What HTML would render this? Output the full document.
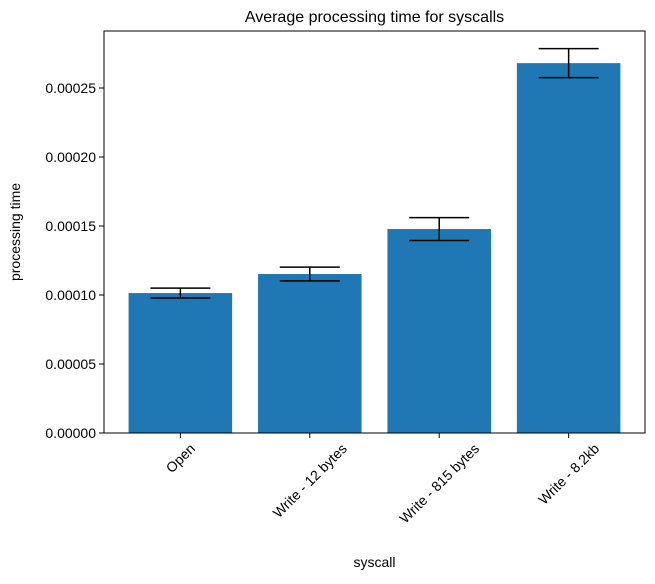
<!DOCTYPE html>
<html><head><meta charset="utf-8"><style>
body{margin:0;background:#fff;}
svg text{font-family:"Liberation Sans","DejaVu Sans",sans-serif;fill:#000;}
</style></head><body>
<svg id="chart" width="655" height="579"></svg>
<script>
const categories=["Open","Write - 12 bytes","Write - 815 bytes","Write - 8.2kb"];
const values=[0.0001014,0.0001152,0.0001478,0.000268];
const errors=[0.0000036,0.000005,0.0000083,0.0000105];
const yTicks=[0,0.00005,0.0001,0.00015,0.0002,0.00025];
const yTickLabels=["0.00000","0.00005","0.00010","0.00015","0.00020","0.00025"];

const L=104,R=645,T=31,B=433;
const xMin=-0.59,xMax=3.59,yMax=0.0002913;
const sx=v=>L+(v-xMin)/(xMax-xMin)*(R-L);
const sy=v=>B-v/yMax*(B-T);
const NS="http://www.w3.org/2000/svg";
const svg=document.getElementById('chart');
function mk(tag,attrs,txt){const e=document.createElementNS(NS,tag);for(const k in attrs)e.setAttribute(k,attrs[k]);if(txt!==undefined)e.textContent=txt;svg.appendChild(e);return e;}
const bw=sx(0.4)-sx(0);
categories.forEach((c,i)=>{
  const r=mk('rect',{x:sx(i)-bw,y:sy(values[i]),width:2*bw,height:B-sy(values[i]),fill:'#1f77b4'});
  
  
  const y1=sy(values[i]+errors[i]),y2=sy(values[i]-errors[i]),cx=sx(i);
  const g=[mk('line',{x1:cx,x2:cx,y1:y1,y2:y2,stroke:'#000','stroke-width':1.5}),
  mk('line',{x1:cx-30,x2:cx+30,y1:y1,y2:y1,stroke:'#000','stroke-width':1.5}),
  mk('line',{x1:cx-30,x2:cx+30,y1:y2,y2:y2,stroke:'#000','stroke-width':1.5})];
  g.forEach(e=>{});
  const tk=mk('line',{x1:cx,x2:cx,y1:B,y2:B+5,stroke:'#000','stroke-width':1});
  
  
  const t=mk('text',{x:cx,y:0,'font-size':14,'text-anchor':'middle'},c);
  
  
  const w=t.getComputedTextLength(),h=14;
  const cy=B+8+(w+h)/(2*Math.SQRT2);
  t.setAttribute('y',cy+5);
  t.setAttribute('transform',`rotate(-45 ${cx} ${cy})`);
});
yTicks.forEach((v,i)=>{
  const y=sy(v);
  const tk=mk('line',{x1:L-5,x2:L,y1:y,y2:y,stroke:'#000','stroke-width':1});
  
  
  const t=mk('text',{x:L-8,y:y+5,'font-size':14,'text-anchor':'end'},yTickLabels[i]);
  
  
});
const fr=mk('rect',{x:L,y:T,width:R-L,height:B-T,fill:'none',stroke:'#000','stroke-width':1});


const ti=mk('text',{x:(L+R)/2,y:22,'font-size':16,'text-anchor':'middle'},'Average processing time for syscalls');


const yl=mk('text',{x:20,y:(T+B)/2,'font-size':14,'text-anchor':'middle',transform:`rotate(-90 20 ${(T+B)/2})`},'processing time');


const xl=mk('text',{x:(L+R)/2,y:567,'font-size':14,'text-anchor':'middle'},'syscall');


</script>
</body></html>
